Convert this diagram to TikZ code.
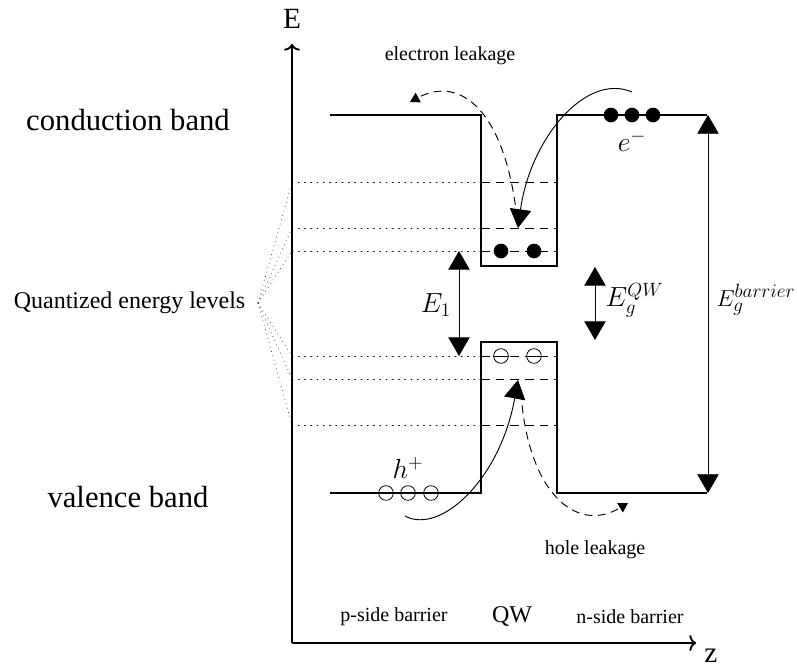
\documentclass[tikz,border=0pt]{standalone}
\usepackage{fontspec}
\setmainfont{Liberation Serif}
\usetikzlibrary{arrows.meta}
\tikzset{
  px/.style={x=0.75pt,y=-0.75pt},
  band/.style={line width=1.5pt},
  axisline/.style={line width=1.4pt,-{To[length=5pt,width=12pt]}},
  qlevel/.style={line width=0.6pt,dash pattern=on 6.5pt off 4.5pt},
  guide/.style={line width=0.6pt,dash pattern=on 0.7pt off 4pt,line cap=round},
  fanline/.style={line width=0.55pt,black!70,dash pattern=on 0.6pt off 2.8pt},
  gap/.style={line width=0.75pt,{Triangle[length=14pt,width=16pt]}-{Triangle[length=14pt,width=16pt]}},
  capture/.style={line width=0.7pt,-{Triangle[length=14pt,width=16pt]}},
  leak/.style={line width=0.7pt,dash pattern=on 6pt off 4pt,-{Triangle[length=7pt,width=8pt]}},
  big/.style={font=\fontsize{23}{27}\selectfont},
  mid/.style={font=\fontsize{18}{22}\selectfont},
  mathlab/.style={font=\fontsize{22}{26}\selectfont},
  small/.style={font=\fontsize{15}{18}\selectfont},
  elec/.style={circle,fill=black,inner sep=0pt,minimum size=11pt},
  hole/.style={circle,draw=black,line width=0.6pt,inner sep=0pt,minimum size=11pt},
}
\begin{document}
\begin{tikzpicture}[px]
\path[use as bounding box] (0,0) rectangle (797,670);

% axes
\coordinate (O) at (292,643);
\coordinate (Etop) at (292,44);
\coordinate (Zend) at (696,643);
\draw[axisline] (O) -- (Etop);
\draw[axisline] (O) -- (Zend);
\node[mathlab] (Elab) at (292,19) {E};
\node[mathlab,inner sep=1pt] (zlab) at (711,656) {z};

% quantized levels: guides
\foreach \y/\n in {182/c3,228/c2,251/c1,356/v1,379/v2,425/v3}{
  \coordinate (g\n) at (292,\y);
  \coordinate (w\n) at (481,\y);
  \coordinate (e\n) at (557,\y);
  \draw[guide] (g\n) -- (w\n);
  \draw[qlevel] (w\n) -- (e\n);
}

% conduction band
\draw[band] (330,115) -- (481,115) -- (481,266) -- (557,266) -- (557,115) -- (707,115);
% valence band
\draw[band] (330,493) -- (481,493) -- (481,342) -- (557,342) -- (557,493) -- (707,493);

% fan of quantized-level pointers
\node[mid,anchor=east] (qel) at (250,303) {Quantized energy levels};
\coordinate (fan) at (258,303);
\foreach \n in {c3,c2,c1,v1,v2,v3}{
  \draw[fanline] (fan) -- (g\n);
}

% band labels
\node[big] (cb) at (128,120) {conduction band};
\node[big] (vb) at (128,497) {valence band};

% carriers in the well
\node[elec] (e1) at (501,251) {};
\node[elec] (e2) at (534,251) {};
\node[hole] (h1) at (501,356) {};
\node[hole] (h2) at (534,356) {};
\draw[line width=0.6pt] (h1.west) -- (h1.east);
\draw[line width=0.6pt] (h2.west) -- (h2.east);

% carriers in the barriers
\node[elec] (n1) at (611,115) {};
\node[elec] (n2) at (632,115) {};
\node[elec] (n3) at (653,115) {};
\node[mathlab] (elab) at (632,141) {$e^{-}$};
\node[hole] (p1) at (386,493) {};
\node[hole] (p2) at (408,493) {};
\node[hole] (p3) at (431,493) {};
\node[mathlab] (hlab) at (408,468) {$h^{+}$};

% gap arrows
\coordinate (E1a) at (459,251);
\coordinate (E1b) at (459,356);
\draw[gap] (E1a) -- (E1b);
\node[mathlab] (E1lab) at (436,305) {$E_1$};
\coordinate (Qa) at (595,267);
\coordinate (Qb) at (595,340);
\draw[gap] (Qa) -- (Qb);
\node[mathlab,anchor=west] (Qlab) at (601,300) {$E_g^{QW}$};
\coordinate (Ba) at (708,115);
\coordinate (Bb) at (708,493);
\draw[gap,line width=0.6pt] (Ba) -- (Bb);
\node[font=\fontsize{19}{23}\selectfont,anchor=west,inner sep=1pt] (Blab) at (715,300) {$E_g^{barrier}$};

% capture and leakage
\coordinate (ecs) at (632,92);
\coordinate (ece) at (518,228);
\draw[capture] (ecs) .. controls (585,72) and (530,140) .. (ece);
\coordinate (els) at (517,218);
\coordinate (ele) at (410,102);
\draw[leak] (els) .. controls (505,110) and (460,75) .. (ele);
\node[small] (eleak) at (450,56) {electron leakage};

\coordinate (hcs) at (405,516);
\coordinate (hce) at (518,380);
\draw[capture] (hcs) .. controls (440,535) and (500,480) .. (hce);
\coordinate (hls) at (521,392);
\coordinate (hle) at (628,503);
\draw[leak] (hls) .. controls (527,490) and (575,535) .. (hle);
\node[small] (hleak) at (595,550) {hole leakage};

% region labels
\node[small] (pside) at (394,617) {p-side barrier};
\node[mid] (qw) at (512,616) {QW};
\node[small] (nside) at (630,617) {n-side barrier};
\end{tikzpicture}
\end{document}
